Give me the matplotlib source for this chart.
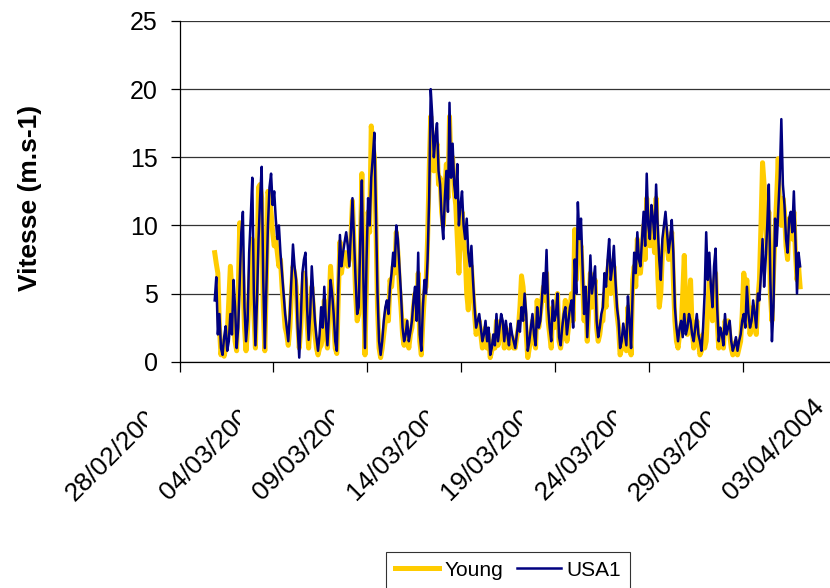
import matplotlib
matplotlib.use('Agg')
import matplotlib.pyplot as plt
import matplotlib.dates as mdates
import matplotlib.transforms as mtransforms
import pandas as pd

plt.rcParams['font.family'] = ['Liberation Sans', 'DejaVu Sans']

# Data: wind speed (m/s), one reading every 2 hours
start = '2004-02-29 21:00'
young = [8.0, 7.2, 6.5, 2.5, 0.5, 1.5, 0.4, 1.0, 2.0, 4.5, 7.0, 5.0, 3.0, 1.5, 0.8, 5.0,
         10.2, 8.0, 6.0, 2.5, 0.8, 2.5, 5.0, 7.5, 9.0, 3.5, 1.0, 7.0, 12.8, 13.0, 12.0, 4.0,
         0.8, 6.0, 12.5, 12.0, 11.0, 9.5, 8.5, 9.0, 8.0, 7.0, 7.5, 5.5, 4.0, 2.5, 2.0, 1.2,
         2.5, 5.0, 7.0, 6.5, 5.5, 3.0, 1.0, 2.5, 5.0, 6.5,
         6.0, 3.0, 1.0, 3.0, 5.5, 4.0, 2.0, 1.0, 0.5, 1.0, 1.2, 2.0, 4.5, 2.5, 1.0, 4.0,
         7.0, 5.0, 3.0, 1.0, 0.6, 5.0, 8.8, 6.5, 7.5, 8.0, 8.0, 7.0, 7.5, 9.0, 11.8, 8.5,
         5.0, 3.0, 3.5, 8.0, 13.8, 5.5, 0.5, 6.0, 11.0, 9.5, 17.3, 16.0, 15.0, 10.0, 4.0, 1.0,
         0.3, 1.0, 2.0, 3.0, 4.0, 3.0, 6.0, 5.5, 7.0, 6.5, 9.5, 8.0, 5.5, 4.0, 2.0, 1.2,
         3.0, 2.0, 1.0, 2.0, 2.5, 4.0, 5.0, 3.5, 6.5, 1.5, 0.5, 3.0, 5.0, 5.5, 9.0, 14.0,
         18.0, 16.5, 14.0, 15.0, 16.0, 13.0, 13.5, 11.0, 10.0, 12.5, 14.5, 12.0, 18.0, 14.0, 15.0, 12.5,
         11.5, 9.0, 6.5, 9.5, 11.0, 9.0, 8.0, 5.0, 3.8, 6.5, 7.0, 5.0, 3.5, 2.0, 2.5, 3.0,
         2.0, 1.0, 1.5, 2.5, 1.0, 2.0, 0.3, 0.8, 1.5, 1.0, 3.0, 1.2, 2.0, 3.0, 2.5, 1.0,
         2.5, 1.5, 1.0, 2.0, 1.5, 1.0, 1.0, 1.8, 2.5, 4.0, 6.3, 5.5, 4.0, 2.0, 0.3, 1.0,
         2.0, 3.0, 1.5, 1.0, 4.5, 2.5, 3.5, 4.5, 5.5, 4.5, 6.5, 3.0, 2.0, 1.0, 4.0, 2.5,
         4.0, 5.0, 1.5, 1.0, 2.0, 3.0, 4.5, 1.5, 2.5, 4.0, 5.0, 3.0, 9.7, 6.0, 9.5, 8.0,
         8.5, 6.0, 3.0, 5.0, 1.5, 4.0, 6.5, 4.0, 5.0, 6.0, 2.5, 1.5, 2.0, 3.0, 3.0, 5.0,
         4.0, 6.5, 7.5, 5.0, 6.0, 7.0, 5.0, 3.5, 2.5, 0.5, 1.0, 2.0, 1.5, 0.8, 4.0, 2.5,
         0.5, 6.0, 7.0, 5.5, 9.0, 6.5, 6.5, 8.0, 10.0, 7.5, 12.0, 9.0, 8.5, 10.5, 9.5, 8.0,
         12.0, 6.5, 4.0, 5.0, 8.0, 9.0, 10.0, 8.5, 7.5, 8.5, 9.5, 6.0, 3.0, 1.5, 1.0, 2.0,
         2.5, 5.0, 7.8, 3.5, 2.0, 4.0, 6.0, 2.5, 1.0, 2.0, 3.0, 1.5, 0.5, 0.8, 2.0, 1.0,
         1.5, 4.0, 6.0, 4.5, 3.0, 5.5, 6.5, 3.0, 1.0, 2.0, 1.5, 1.0, 3.0, 2.5, 3.0, 2.0,
         1.0, 0.5, 0.8, 1.5, 0.5, 1.0, 1.5, 3.5, 6.5, 5.5, 6.0, 4.0, 2.0, 3.0, 4.0, 2.5,
         2.0, 4.5, 6.0, 10.0, 14.6, 13.0, 10.0, 8.0, 11.0, 5.0, 3.0, 6.5, 9.5, 12.0, 14.9, 11.0,
         10.0, 12.0, 11.0, 8.5, 7.5, 10.5, 10.0, 9.0, 11.0, 8.0, 6.0, 7.0, 5.5]
usa1 = [4.5, 6.2, 2.0, 3.5, 1.0, 0.5, 1.8, 2.6, 0.8, 1.5, 3.5, 2.0, 6.0, 4.0, 1.0, 2.5,
        6.0, 9.5, 11.0, 4.0, 1.5, 3.0, 8.0, 10.5, 13.5, 5.0, 1.2, 4.5, 9.0, 12.0, 14.3, 6.0,
        1.0, 5.5, 10.0, 12.8, 13.8, 11.5, 12.5, 10.5, 9.0, 10.0, 8.0, 6.5, 5.0, 3.5, 2.5, 1.5,
        3.5, 6.0, 8.6, 7.0, 6.0, 2.5, 0.3, 3.0, 6.5, 7.5,
        8.0, 4.0, 1.6, 3.5, 7.0, 5.0, 3.0, 1.8, 0.8, 2.0, 4.0, 2.5, 5.5, 3.0, 1.2, 3.5,
        6.0, 5.0, 3.5, 1.5, 0.8, 5.5, 9.3, 7.0, 8.0, 8.8, 9.5, 8.5, 7.0, 9.5, 12.0, 9.0,
        6.0, 3.5, 4.0, 9.0, 13.3, 6.0, 1.0, 7.5, 12.0, 10.0, 13.5, 15.0, 16.8, 11.0, 5.0, 1.5,
        0.5, 1.5, 3.0, 4.0, 4.5, 3.5, 5.5, 6.5, 8.0, 7.0, 10.0, 9.0, 7.0, 5.0, 2.5, 1.5,
        2.0, 3.0, 1.5, 2.2, 3.0, 4.5, 5.5, 3.0, 8.0, 2.0, 0.8, 4.0, 6.0, 5.0, 7.5, 12.0,
        20.0, 18.0, 15.0, 16.5, 17.5, 14.0, 13.0, 10.5, 9.0, 12.0, 14.0, 11.0, 19.0, 13.5, 16.0, 13.0,
        12.0, 14.5, 10.0, 11.5, 12.5, 10.0, 9.0, 10.5, 8.0, 7.0, 8.5, 6.0, 4.0, 2.5, 3.0, 3.5,
        2.5, 1.5, 2.0, 3.0, 1.5, 2.5, 0.5, 1.0, 2.0, 1.2, 3.5, 1.5, 2.5, 3.5, 3.0, 1.5,
        3.0, 2.0, 1.2, 2.8, 2.0, 1.5, 1.0, 2.0, 3.0, 2.2, 4.0, 3.0, 5.0, 3.5, 0.8, 1.5,
        2.5, 3.5, 2.0, 1.2, 4.0, 2.5, 3.0, 4.5, 6.5, 5.0, 8.2, 4.0, 2.5, 1.5, 4.5, 3.0,
        3.5, 5.0, 1.8, 1.2, 2.5, 3.5, 4.0, 2.0, 3.0, 4.0, 4.5, 2.5, 7.5, 5.0, 11.7, 9.0,
        10.5, 7.0, 3.5, 5.5, 1.8, 4.5, 7.8, 5.0, 6.0, 7.0, 3.0, 1.8, 2.5, 3.5, 4.0, 6.5,
        5.5, 7.5, 9.0, 6.0, 7.0, 8.5, 6.0, 4.0, 3.0, 1.0, 1.5, 2.8, 2.0, 1.2, 4.8, 3.0,
        1.0, 5.0, 8.0, 6.5, 9.5, 7.5, 7.0, 9.0, 11.0, 8.5, 13.8, 10.0, 9.0, 11.5, 10.5, 9.0,
        13.0, 10.0, 7.5, 6.0, 9.0, 10.0, 11.0, 9.5, 8.0, 9.0, 10.4, 8.0, 4.0, 2.5, 1.5, 2.5,
        3.0, 1.8, 3.5, 2.0, 2.5, 3.5, 3.0, 2.0, 1.5, 2.5, 3.5, 2.0, 1.5, 0.8, 2.5, 5.0,
        9.5, 6.0, 8.0, 5.5, 4.0, 7.0, 8.3, 4.0, 1.5, 2.5, 2.0, 1.2, 3.5, 2.0, 2.5, 3.0,
        1.5, 0.8, 1.2, 1.8, 0.8, 1.5, 2.0, 3.0, 3.5, 2.5, 5.5, 3.5, 2.5, 3.0, 4.5, 3.5,
        2.5, 5.0, 4.5, 6.5, 9.0, 5.5, 7.5, 10.0, 13.0, 6.0, 1.5, 4.0, 10.5, 8.5, 11.0, 13.5,
        17.8, 13.0, 11.5, 9.0, 8.0, 10.5, 11.0, 9.5, 12.5, 9.0, 5.0, 8.0, 7.0]
times = pd.date_range(start, periods=len(usa1), freq='2h')

tick_dates = pd.date_range('2004-02-28', '2004-04-03', freq='5D').to_pydatetime()
tick_labels = [d.strftime('%d/%m/%Y') for d in tick_dates]

fig = plt.figure(figsize=(8.3, 5.88), dpi=100)
ax = fig.add_axes([179.5 / 830, 226.3 / 588, 680.5 / 830, 340.7 / 588])

ax.plot(times, young, color='#FFCC00', lw=3.6, label='Young')
ax.plot(times, usa1, color='#000080', lw=1.8, label='USA1')

ax.set_ylim(0, 25)
ax.set_yticks(range(0, 26, 5))
x0 = mdates.date2num(tick_dates[0])
ax.set_xlim(x0, x0 + 36.23)
tick_nums = mdates.date2num(tick_dates)
ax.set_xticks(tick_nums)

ax.grid(axis='y', color='#333333', lw=0.9)
ax.spines['top'].set_visible(False)
ax.spines['right'].set_visible(False)
for s in ['left', 'bottom']:
    ax.spines[s].set_color('black')
    ax.spines[s].set_linewidth(0.9)
ax.tick_params(axis='x', direction='out', length=7, width=0.9, labelbottom=False)
ax.tick_params(axis='y', direction='out', length=6.5, width=0.9, labelsize=18, pad=9)

ax.set_ylabel('Vitesse (m.s-1)', fontsize=19, fontweight='bold')
ax.yaxis.set_label_coords(-0.202, 0.48)

# rotated date labels, cut off by the neighbour's space like in Excel
shift = mtransforms.ScaledTranslation(-0.25, -0.33, fig.dpi_scale_trans)
cut = mtransforms.ScaledTranslation(-0.33, 0, fig.dpi_scale_trans)
for i, (d, lab) in enumerate(zip(tick_nums, tick_labels)):
    t = fig.text(d, 0, lab, transform=ax.get_xaxis_transform() + shift,
                 rotation=45, ha='right', va='top', rotation_mode='anchor', fontsize=19)
    if i < len(tick_nums) - 1:
        box = mtransforms.TransformedBbox(mtransforms.Bbox([[d - 20, -2], [d, 0]]),
                                          ax.get_xaxis_transform() + cut)
        t.set_clip_box(box)
        t.set_clip_on(True)

leg = fig.legend(loc='upper center', bbox_to_anchor=(508 / 830, 36 / 588), ncol=2,
                 frameon=True, fancybox=False, edgecolor='black', fontsize=15,
                 handlelength=2.1, handletextpad=0.25, columnspacing=0.7, borderpad=0.42,
                 borderaxespad=0)
leg.get_frame().set_linewidth(0.8)

fig.savefig('out.png', dpi=100)
